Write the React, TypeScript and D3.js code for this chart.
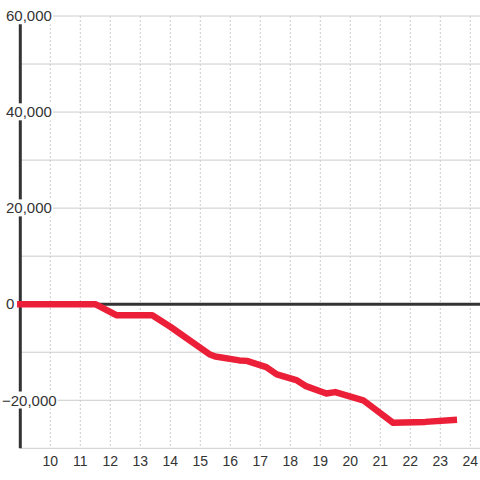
import React, { useEffect, useRef } from "react";
import * as d3 from "d3";

const xTicks = [10, 11, 12, 13, 14, 15, 16, 17, 18, 19, 20, 21, 22, 23, 24];
const yLabelTicks = [60000, 40000, 20000, 0, -20000];
const yGridTicks = [60000, 50000, 40000, 30000, 20000, 10000, 0, -10000, -20000, -30000];
const seriesX = [9, 11.5, 12.2, 13.4, 14.0, 15.3, 15.5, 16.3, 16.55, 17.2, 17.55, 18.2, 18.5, 19.2, 19.5, 20.43, 21.43, 22.5, 23.45];
const seriesY = [0, 0, -2300, -2300, -4700, -10400, -10900, -11700, -11800, -13100, -14600, -15800, -17000, -18600, -18300, -20000, -24700, -24500, -24100];

const W = 480;
const H = 480;

export default function App() {
  const ref = useRef<SVGSVGElement | null>(null);

  useEffect(() => {
    const svg = d3.select(ref.current);
    svg.selectAll("*").remove();
    const x = d3.scaleLinear().domain([9, 24]).range([20.3, 470.3]);
    const y = d3.scaleLinear().domain([-30000, 60000]).range([448.3, 16]);
    const font = "'Liberation Sans', Arial, sans-serif";

    svg.append("g").selectAll("line").data(yGridTicks.filter((d) => d !== 0)).join("line")
      .attr("x1", 20).attr("x2", W)
      .attr("y1", (d) => y(d)).attr("y2", (d) => y(d))
      .attr("stroke", "#cccccc").attr("stroke-width", 1);

    svg.append("g").selectAll("line").data(xTicks).join("line")
      .attr("x1", (d) => x(d)).attr("x2", (d) => x(d))
      .attr("y1", y(60000)).attr("y2", y(-30000))
      .attr("stroke", "#cccccc").attr("stroke-width", 1)
      .attr("stroke-dasharray", "2,2");

    svg.append("line")
      .attr("x1", x(9)).attr("x2", x(9))
      .attr("y1", y(60000)).attr("y2", y(-30000))
      .attr("stroke", "#333333").attr("stroke-width", 3);

    svg.append("line")
      .attr("x1", x(9)).attr("x2", W)
      .attr("y1", y(0)).attr("y2", y(0))
      .attr("stroke", "#333333").attr("stroke-width", 3);

    const fmt = d3.format(",");
    const lg = svg.append("g");
    yLabelTicks.forEach((d) => {
      const g = lg.append("g");
      const rect = g.append("rect").attr("fill", "#ffffff");
      const t = g.append("text")
        .attr("x", d < 0 ? 2 : 6)
        .attr("y", y(d))
        .attr("dy", "0.35em")
        .attr("font-family", font)
        .attr("font-size", 15)
        .attr("fill", "#333333")
        .text(fmt(d));
      const node = t.node() as SVGTextElement;
      const bb = node.getBBox();
      rect.attr("x", bb.x - 1).attr("y", bb.y).attr("width", bb.width + 2).attr("height", bb.height);
    });

    const pts: [number, number][] = seriesX.map((v, i) => [v, seriesY[i]]);
    const line = d3.line<[number, number]>().x((d) => x(d[0])).y((d) => y(d[1]));
    svg.append("path")
      .attr("d", line(pts) || "")
      .attr("fill", "none")
      .attr("stroke", "#ec1f38")
      .attr("stroke-width", 6.5)
      .attr("stroke-linejoin", "round")
      .attr("stroke-linecap", "square");

    svg.append("g").selectAll("text").data(xTicks).join("text")
      .attr("x", (d) => x(d))
      .attr("y", 466.3)
      .attr("text-anchor", "middle")
      .attr("font-family", font)
      .attr("font-size", 14)
      .attr("fill", "#333333")
      .text((d) => String(d));
  }, []);

  return (
    <svg
      ref={ref}
      width={W}
      height={H}
      style={{ position: "fixed", left: 0, top: 0, background: "#ffffff" }}
    />
  );
}
